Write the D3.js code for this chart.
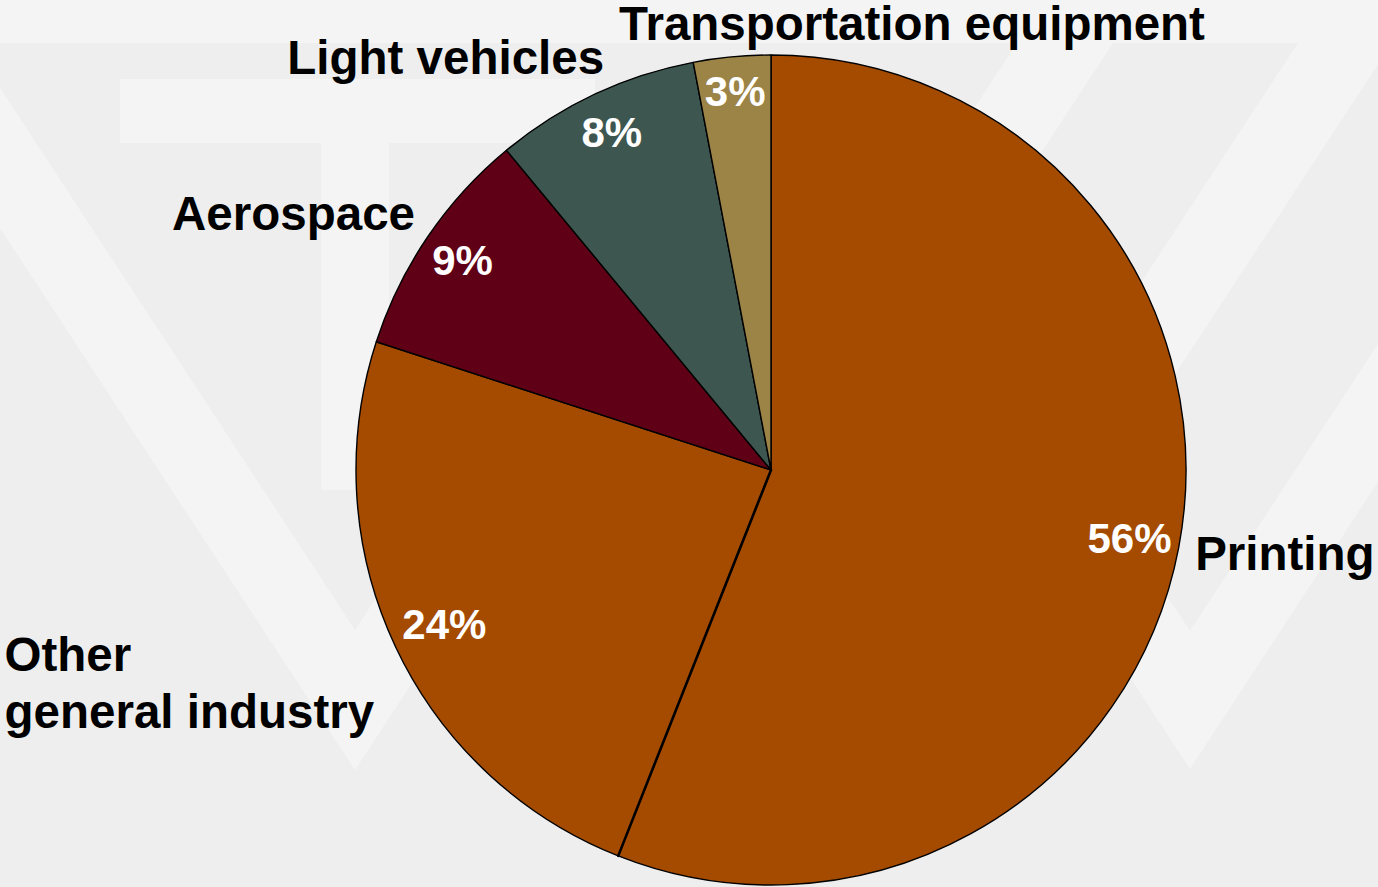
<!DOCTYPE html>
<html>
<head>
<meta charset="utf-8">
<script src="https://cdn.jsdelivr.net/npm/d3@7"></script>
<style>
  html, body { margin: 0; padding: 0; background: #eeeeee; }
  svg { display: block; }
  text { font-family: "Liberation Sans", Arial, Helvetica, sans-serif; font-weight: bold; }
</style>
</head>
<body>
<svg id="chart" width="1378" height="887"></svg>
<script>
// Market split by end use (share of total, %)
const categories = ["Printing", "Other general industry", "Aerospace", "Light vehicles", "Transportation equipment"];
const shares = [56, 24, 9, 8, 3];
const sliceColors = ["#a54b00", "#a54b00", "#5f0016", "#3d5650", "#9c8346"];
// label text lines (category names may wrap)
const labelLines = [["Printing"], ["Other", "general industry"], ["Aerospace"], ["Light vehicles"], ["Transportation equipment"]];

const W = 1378, H = 887;
const cx = 771, cy = 470, R = 415;

const svg = d3.select("#chart");

// ---- background with faint logo watermark ----
const bg = svg.append("g");
bg.append("rect").attr("width", W).attr("height", H).attr("fill", "#eeeeee");
const wm = "#f4f4f4";
const slant = 0.655; // stroke slant (dx per dy)
const yBand = 43;
const band = bg.append("g").attr("fill", wm);
band.append("rect").attr("x", 0).attr("y", 0).attr("width", W).attr("height", yBand);
// T
band.append("rect").attr("x", 120).attr("y", 79).attr("width", 475).attr("height", 64);
band.append("rect").attr("x", 321).attr("y", 143).attr("width", 68).attr("height", 347);
// V shapes (tip, inner vertex) with arms cut at yTopL / yTopR
function vShape(xt, yTip, yInner, yTopL, yTopR) {
  const pts = [
    [xt - slant * (yTip - yTopL), yTopL],
    [xt - slant * (yInner - yTopL), yTopL],
    [xt, yInner],
    [xt + slant * (yInner - yTopR), yTopR],
    [xt + slant * (yTip - yTopR), yTopR],
    [xt, yTip]
  ];
  band.append("polygon").attr("points", pts.map(p => p.join(",")).join(" "));
}
vShape(355, 770, 630, yBand, 200);
vShape(1190, 769, 631, 250, yBand);
// slanted strokes at upper right
function slash(x0, x1, yEnd) {
  const pts = [[x0, yBand], [x1, yBand], [x1 - slant * (yEnd - yBand), yEnd], [x0 - slant * (yEnd - yBand), yEnd]];
  band.append("polygon").attr("points", pts.map(p => p.join(",")).join(" "));
}
slash(1017, 1113, 420);
slash(1298, 1392, 450);

// ---- pie ----
const pie = d3.pie().sort(null).value(d => d.value);
const data = categories.map((c, i) => ({ name: c, value: shares[i], color: sliceColors[i], lines: labelLines[i] }));
const arcs = pie(data);
const arc = d3.arc().innerRadius(0).outerRadius(R);

const g = svg.append("g").attr("transform", `translate(${cx},${cy})`);
g.selectAll("path.slice")
  .data(arcs)
  .join("path")
  .attr("class", "slice")
  .attr("d", arc)
  .attr("fill", d => d.data.color)
  .attr("stroke", "#000")
  .attr("stroke-width", 1.4)
  .attr("stroke-linejoin", "round");

// heavier divider where the two same-coloured slices meet
const split = arcs[0].endAngle;
g.append("line")
  .attr("x1", 0).attr("y1", 0)
  .attr("x2", R * Math.sin(split)).attr("y2", -R * Math.cos(split))
  .attr("stroke", "#000")
  .attr("stroke-width", 2.6)
  .attr("stroke-linecap", "round");

// ---- percentage labels inside slices ----
const pctRadius = { "Printing": 365, "Other general industry": 361, "Aerospace": 373, "Light vehicles": 374, "Transportation equipment": 381 };
const pctPos = d => d3.arc().innerRadius(0).outerRadius(2 * pctRadius[d.data.name]).centroid(d);
g.selectAll("text.pct")
  .data(arcs)
  .join("text")
  .attr("class", "pct")
  .attr("text-anchor", "middle")
  .attr("font-size", 42)
  .attr("fill", "#ffffff")
  .attr("x", d => pctPos(d)[0])
  .attr("y", d => pctPos(d)[1] + 15)
  .text(d => d.data.value + "%");

// ---- category labels outside the pie ----
const labelLayout = {
  "Printing": { anchor: "start", dx: 16.5, dy: 22.4 },
  "Other general industry": { anchor: "block-end", dx: -21.4, dy: 24.2, lead: 57 },
  "Aerospace": { anchor: "end", dx: -12.8, dy: -6.8 },
  "Light vehicles": { anchor: "end", dx: 9.8, dy: -20.4 },
  "Transportation equipment": { anchor: "middle", dx: 180, dy: -17.3 }
};
const edge = d3.arc().innerRadius(R).outerRadius(R);
arcs.forEach(d => {
  const [px, py] = edge.centroid(d);
  const L = labelLayout[d.data.name];
  const t = g.append("text").attr("font-size", 47.5).attr("fill", "#000");
  if (L.anchor === "block-end") {
    d.data.lines.forEach((line, i) => {
      t.append("tspan").attr("y", py + L.dy + i * L.lead).text(line);
    });
    const w = Math.max(...t.selectAll("tspan").nodes().map(n => n.getComputedTextLength()));
    t.attr("text-anchor", "start");
    t.selectAll("tspan").attr("x", px + L.dx - w);
  } else {
    t.attr("text-anchor", L.anchor)
      .attr("x", px + L.dx)
      .attr("y", py + L.dy)
      .text(d.data.lines[0]);
  }
});
</script>
</body>
</html>
